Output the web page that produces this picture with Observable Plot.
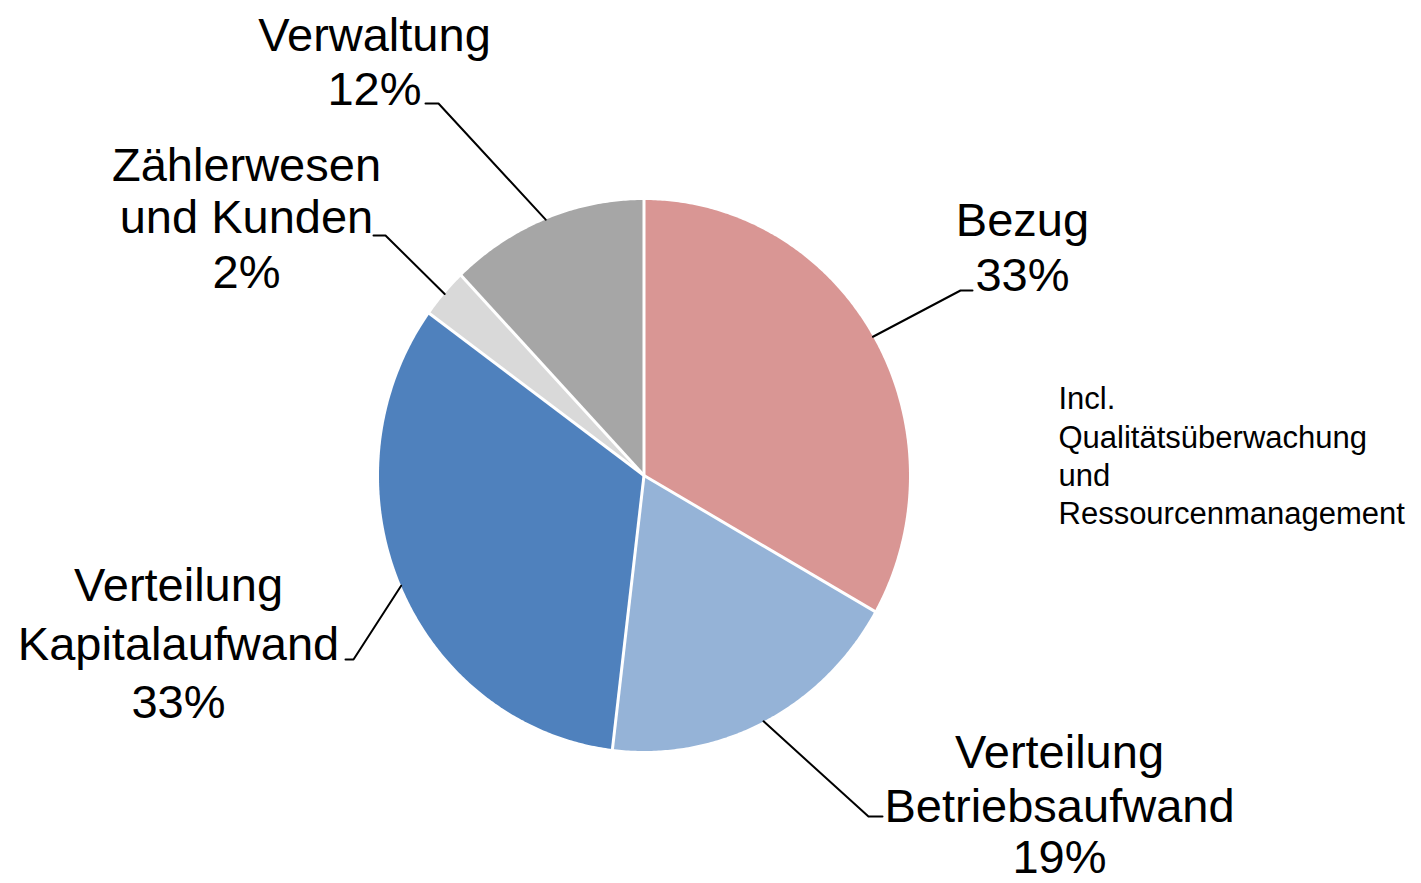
<!DOCTYPE html>
<html>
<head>
<meta charset="utf-8">
<script src="https://cdn.jsdelivr.net/npm/d3@7"></script>
<script src="https://cdn.jsdelivr.net/npm/@observablehq/plot@0.6"></script>
<style>
  html, body { margin: 0; padding: 0; background: #ffffff; }
  #chart svg { display: block; }
</style>
</head>
<body>
<div id="chart"></div>
<script>
// ---- data ----
const categories = ["Bezug", "Verteilung Betriebsaufwand", "Verteilung Kapitalaufwand", "Zählerwesen und Kunden", "Verwaltung"];
const shares = [33.2, 18.7, 33.1, 2.9, 12.1];
const percentLabels = ["33%", "19%", "33%", "2%", "12%"];
const labelLines = [["Bezug"], ["Verteilung", "Betriebsaufwand"], ["Verteilung", "Kapitalaufwand"], ["Zählerwesen", "und Kunden"], ["Verwaltung"]];
const colors = ["#D99694", "#95B3D7", "#4F81BD", "#D9D9D9", "#A6A6A6"];
const noteLines = ["Incl.", "Qualitätsüberwachung", "und", "Ressourcenmanagement"];

// ---- layout (pixels) ----
const W = 1421, H = 883;
const CX = 643.5, CY = 475, RX = 265, RY = 275.5;
const labelCenterX = [1022, 1059, 178, 246, 374];
const labelBaselines = [[235, 290], [767, 821, 872], [600, 659, 717], [180, 232, 287], [50, 104]];
const elbows = [[960, 290], [868, 816], [353, 659], [385, 235], [438, 103]];
const ends = [[972, 290], [882, 816], [345, 659], [373, 235], [425, 103]];
const noteX = 1058, noteBaselines = [408, 447, 485, 523];
const FONT = "'Liberation Sans', Arial, Helvetica, sans-serif";

// pixel -> pie units
const ux = px => (px - CX) / RX;
const uy = py => (CY - py) / RY;

// ---- slices from data ----
const total = d3.sum(shares);
let acc = 0;
const slices = categories.map((name, i) => {
  const a0 = acc / total * 2 * Math.PI;
  acc += shares[i];
  const a1 = acc / total * 2 * Math.PI;
  return {name, a0, a1, mid: (a0 + a1) / 2};
});

const slicePts = [];
slices.forEach(s => {
  slicePts.push({name: s.name, x: 0, y: 0});
  const n = Math.max(2, Math.ceil((s.a1 - s.a0) / (Math.PI / 360)));
  for (let k = 0; k <= n; k++) {
    const a = s.a0 + (s.a1 - s.a0) * k / n;
    slicePts.push({name: s.name, x: Math.sin(a), y: Math.cos(a)});
  }
  slicePts.push({name: s.name, x: 0, y: 0});
});

const separators = slices.map(s => ({x1: 0, y1: 0, x2: Math.sin(s.a0) * 1.01, y2: Math.cos(s.a0) * 1.01}));

const leaderPts = [];
slices.forEach((s, i) => {
  leaderPts.push({name: s.name, x: Math.sin(s.mid), y: Math.cos(s.mid)});
  leaderPts.push({name: s.name, x: ux(elbows[i][0]), y: uy(elbows[i][1])});
  leaderPts.push({name: s.name, x: ux(ends[i][0]), y: uy(ends[i][1])});
});

const textRows = [];
categories.forEach((name, i) => {
  const lines = [...labelLines[i], percentLabels[i]];
  lines.forEach((t, j) => textRows.push({text: t, x: ux(labelCenterX[i]), y: uy(labelBaselines[i][j])}));
});
const noteRows = noteLines.map((t, j) => ({text: t, x: ux(noteX), y: uy(noteBaselines[j])}));

const chart = Plot.plot({
  width: W,
  height: H,
  margin: 0,
  style: {fontFamily: FONT, background: "#ffffff", color: "#000000"},
  x: {domain: [ux(0), ux(W)], range: [0, W], axis: null},
  y: {domain: [uy(H), uy(0)], range: [H, 0], axis: null},
  color: {domain: categories, range: colors},
  marks: [
    Plot.line(slicePts, {x: "x", y: "y", z: "name", fill: "name", stroke: "none", curve: "linear-closed"}),
    Plot.link(separators, {x1: "x1", y1: "y1", x2: "x2", y2: "y2", stroke: "#ffffff", strokeWidth: 3}),
    Plot.line(leaderPts, {x: "x", y: "y", z: "name", stroke: "#000000", strokeWidth: 2, curve: "linear"}),
    Plot.text(textRows, {x: "x", y: "y", text: "text", fontSize: 47, textAnchor: "middle", lineAnchor: "bottom", fill: "#000000"}),
    Plot.text(noteRows, {x: "x", y: "y", text: "text", fontSize: 31, textAnchor: "start", lineAnchor: "bottom", fill: "#000000"})
  ]
});
document.getElementById("chart").appendChild(chart);
</script>
</body>
</html>
